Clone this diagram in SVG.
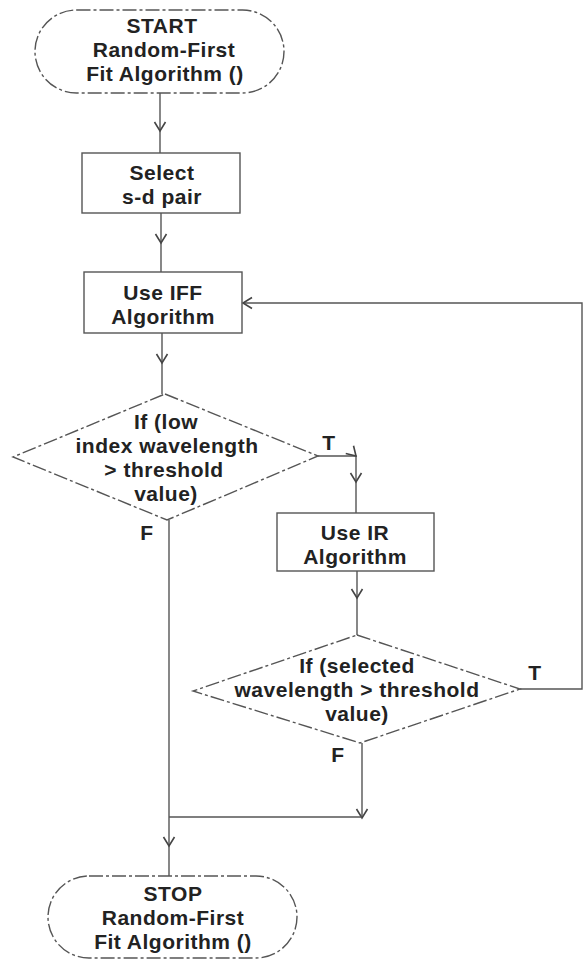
<svg xmlns="http://www.w3.org/2000/svg" width="583" height="960" viewBox="0 0 583 960">
<defs>
<style>
.t{font-family:"Liberation Sans",Arial,sans-serif;font-weight:bold;font-size:21px;letter-spacing:0.5px;fill:#222;text-anchor:middle}
.n{fill:none;stroke:#555;stroke-width:1.4}
.d{stroke-dasharray:14 3 3 3}
.c{fill:none;stroke:#555;stroke-width:1.4}
.am{marker-mid:url(#ah)}
.ae{marker-end:url(#ah)}
</style>
<marker id="ah" markerUnits="userSpaceOnUse" markerWidth="14" markerHeight="14" viewBox="0 0 14 14" refX="11" refY="7" orient="auto">
<path d="M2,1.5 L11,7 L2,12.5" fill="none" stroke="#444" stroke-width="1.6"/>
</marker>
</defs>
<rect width="583" height="960" fill="#fff"/>
<g id="connectors">
<path class="c am" d="M160,93 L160,131 L160,153"/>
<path class="c am" d="M161,213 L161,243 L161,272"/>
<path class="c am" d="M162,333 L162,363 L162,394"/>
<path class="c ae" d="M520,689 L582,689 L582,303 L243,303"/>
<path class="c am" d="M318,456 L356,456 L356,482 L356,513"/>
<path class="c am" d="M357,571 L357,598 L357,635"/>
<path class="c ae" d="M362,743 L362,818"/>
<path class="c" d="M169,817 L362,817"/>
<path class="c am" d="M169,520 L169,846 L169,876"/>
</g>
<g id="start">
<rect class="n d" x="35" y="10" width="249" height="83" rx="41.5"/>
<text class="t" x="162" y="33">START</text>
<text class="t" x="164" y="57">Random-First</text>
<text class="t" x="165" y="81">Fit Algorithm ()</text>
</g>
<g id="select">
<rect class="n" x="82" y="153" width="158" height="60"/>
<text class="t" x="162" y="180">Select</text>
<text class="t" x="162" y="204">s-d pair</text>
</g>
<g id="iff">
<rect class="n" x="84" y="272" width="158" height="61"/>
<text class="t" x="163" y="300">Use IFF</text>
<text class="t" x="163" y="324">Algorithm</text>
</g>
<g id="dec1">
<polygon class="n d" points="165,394 318,456 167,520 13,457"/>
<text class="t" x="166" y="429">If (low</text>
<text class="t" x="167" y="453">index wavelength</text>
<text class="t" x="164" y="477">&gt; threshold</text>
<text class="t" x="166" y="501">value)</text>
<text class="t" x="329" y="450">T</text>
<text class="t" x="147" y="540">F</text>
</g>
<g id="ir">
<rect class="n" x="277" y="513" width="157" height="58"/>
<text class="t" x="355" y="540">Use IR</text>
<text class="t" x="355" y="564">Algorithm</text>
</g>
<g id="dec2">
<polygon class="n d" points="357,635 520,689 360,743 193,691"/>
<text class="t" x="357" y="673">If (selected</text>
<text class="t" x="357" y="697">wavelength &gt; threshold</text>
<text class="t" x="357" y="721">value)</text>
<text class="t" x="535" y="680">T</text>
<text class="t" x="338" y="762">F</text>
</g>
<g id="stop">
<rect class="n d" x="48" y="876" width="249" height="82" rx="41"/>
<text class="t" x="173" y="901">STOP</text>
<text class="t" x="173" y="925">Random-First</text>
<text class="t" x="173" y="949">Fit Algorithm ()</text>
</g>
</svg>
